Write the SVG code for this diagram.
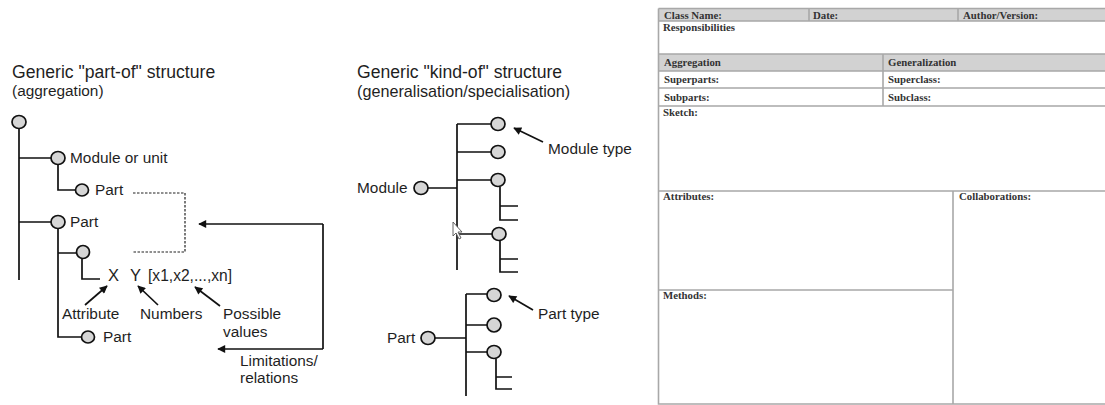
<svg xmlns="http://www.w3.org/2000/svg" width="1105" height="405" viewBox="0 0 1105 405">
<defs>
<style>
.t{font-family:"Liberation Sans",Arial,sans-serif;fill:#1f1f1f}
.h{font-size:17.6px}
.s{font-size:15.4px}
.m{font-size:15.4px}
.ln{stroke:#111;stroke-width:1.7;fill:none}
.dash{stroke:#222;stroke-width:1.2;fill:none;stroke-dasharray:2.5 1.5}
.nd{fill:#d6d6d6;stroke:#111;stroke-width:1.7}
.ar{stroke:#111;stroke-width:1.7;fill:none;marker-end:url(#ah)}
.fl{stroke:#a8a8a8;stroke-width:1.6;fill:none}
.fh{fill:#d2d2d2}
.ft{font-family:"Liberation Serif","Times New Roman",serif;font-size:10.8px;font-weight:bold;fill:#333}
</style>
<marker id="ah" viewBox="0 0 10 10" refX="9" refY="5" markerWidth="9" markerHeight="8" orient="auto" markerUnits="userSpaceOnUse">
<path d="M0,0 L10,5 L0,10 z" fill="#111"/>
</marker>
</defs>
<rect width="1105" height="405" fill="#fff"/>

<!-- Part-of titles -->
<text class="t h" x="12" y="78">Generic "part-of" structure</text>
<text class="t s" x="12" y="96">(aggregation)</text>

<g id="connectors">
<!-- part-of tree -->
<path class="ln" d="M19,129 V280 M19,158 H51 M19,222 H51 M58,164.5 V190 H75 M58,228.5 V337 H81 M58,253 H76 M82,258.5 V279 H100"/>
<path class="dash" d="M133,193 H185 V252 H133"/>
<path class="ln" d="M323,224 V349"/>
<path class="ar" d="M323,224 H199"/>
<path class="ar" d="M323,349 H218"/>
<path class="ar" d="M85,305 L107,286"/>
<path class="ar" d="M158,305 L138,286"/>
<path class="ar" d="M220,306 L195,287"/>
<!-- kind-of tree -->
<path class="ln" d="M457,124 V270 M457,124 H491 M457,152 H491 M457,180 H491 M457,234 H492 M428,188 H457 M500,186.5 V220 H518 M500,206 H518 M500,240.5 V272 H518 M500,259 H518"/>
<path class="ar" d="M543,142 L514,128"/>
<!-- part type tree -->
<path class="ln" d="M466,294 V396 M466,294 H487 M466,325 H487 M466,352 H487 M435,338 H466 M496,358.5 V389 H512 M496,377 H512"/>
<path class="ar" d="M533,310 L509,296"/>
</g>

<!-- part-of nodes -->
<g id="n-root"><ellipse class="nd" cx="19" cy="122" rx="7" ry="6.5"/></g>
<g id="n-module"><ellipse class="nd" cx="58" cy="158" rx="7" ry="6.5"/><text class="t m" x="70" y="163">Module or unit</text></g>
<g id="n-part1"><ellipse class="nd" cx="82" cy="190" rx="6.5" ry="6"/><text class="t m" x="95" y="195">Part</text></g>
<g id="n-part2"><ellipse class="nd" cx="58" cy="222" rx="7" ry="6.5"/><text class="t m" x="70" y="227">Part</text></g>
<g id="n-attr"><ellipse class="nd" cx="83" cy="252" rx="6.5" ry="6.5"/></g>
<g id="n-xy"><text class="t" font-size="16.5" x="108" y="281">X</text><text class="t" font-size="16.5" x="130" y="281">Y</text><text class="t" font-size="15.6" x="148" y="281">[x1,x2,...,xn]</text></g>
<g id="n-part3"><ellipse class="nd" cx="88" cy="337" rx="6.5" ry="6"/><text class="t m" x="103" y="342">Part</text></g>
<g id="l-attribute"><text class="t m" x="62" y="319">Attribute</text></g>
<g id="l-numbers"><text class="t m" x="140" y="319">Numbers</text></g>
<g id="l-values"><text class="t m" x="223" y="319">Possible</text><text class="t m" x="223" y="337">values</text></g>
<g id="l-limits"><text class="t m" x="240" y="366">Limitations/</text><text class="t m" x="240" y="383">relations</text></g>

<!-- kind-of -->
<text class="t h" x="357" y="78">Generic "kind-of" structure</text>
<text class="t" font-size="16.2" x="357" y="97">(generalisation/specialisation)</text>
<g id="k-module"><ellipse class="nd" cx="421" cy="188" rx="7" ry="6.5"/><text class="t m" x="357" y="193">Module</text></g>
<g id="k-t1"><ellipse class="nd" cx="498" cy="124" rx="7" ry="6.5"/></g>
<g id="k-t2"><ellipse class="nd" cx="498" cy="152" rx="7" ry="6.5"/></g>
<g id="k-t3"><ellipse class="nd" cx="498" cy="180" rx="7" ry="6.5"/></g>
<g id="k-t4"><ellipse class="nd" cx="499" cy="234" rx="7" ry="6.5"/></g>
<g id="k-label"><text class="t m" x="548" y="154">Module type</text></g>
<g id="cursor"><path d="M453,222 L453,236 L456,233 L459,239 L461,238 L458,232 L462,232 Z" fill="#fff" stroke="#555" stroke-width="0.9"/></g>

<g id="p-part"><ellipse class="nd" cx="428" cy="338" rx="7" ry="6.5"/><text class="t m" x="387" y="343">Part</text></g>
<g id="p-t1"><ellipse class="nd" cx="494" cy="295" rx="7" ry="6.5"/></g>
<g id="p-t2"><ellipse class="nd" cx="494" cy="325" rx="7" ry="7"/></g>
<g id="p-t3"><ellipse class="nd" cx="494" cy="352" rx="7" ry="6.5"/></g>
<g id="p-label"><text class="t m" x="538" y="319">Part type</text></g>

<!-- CRC form -->
<g id="form">
<rect class="fh" x="659" y="8.5" width="450" height="12.5"/>
<rect class="fh" x="659" y="54" width="450" height="17"/>
<path class="fl" d="M658.5,8.5 H1110 M658.5,8.5 V404 H1110 M659,21 H1110 M809,8.5 V21 M958,8.5 V21 M659,54 H1110 M659,71 H1110 M659,88 H1110 M659,106 H1110 M883,54 V106 M659,191 H1110 M953,191 V404 M659,290 H953"/>
<text class="ft" x="664" y="18.5">Class Name:</text>
<text class="ft" x="813" y="18.5">Date:</text>
<text class="ft" x="963" y="18.5">Author/Version:</text>
<text class="ft" x="663" y="31">Responsibilities</text>
<text class="ft" x="664" y="66">Aggregation</text>
<text class="ft" x="888" y="66">Generalization</text>
<text class="ft" x="664" y="83">Superparts:</text>
<text class="ft" x="888" y="83">Superclass:</text>
<text class="ft" x="664" y="101">Subparts:</text>
<text class="ft" x="888" y="101">Subclass:</text>
<text class="ft" x="663" y="116">Sketch:</text>
<text class="ft" x="663" y="200">Attributes:</text>
<text class="ft" x="959" y="200">Collaborations:</text>
<text class="ft" x="663" y="299">Methods:</text>
</g>
</svg>
